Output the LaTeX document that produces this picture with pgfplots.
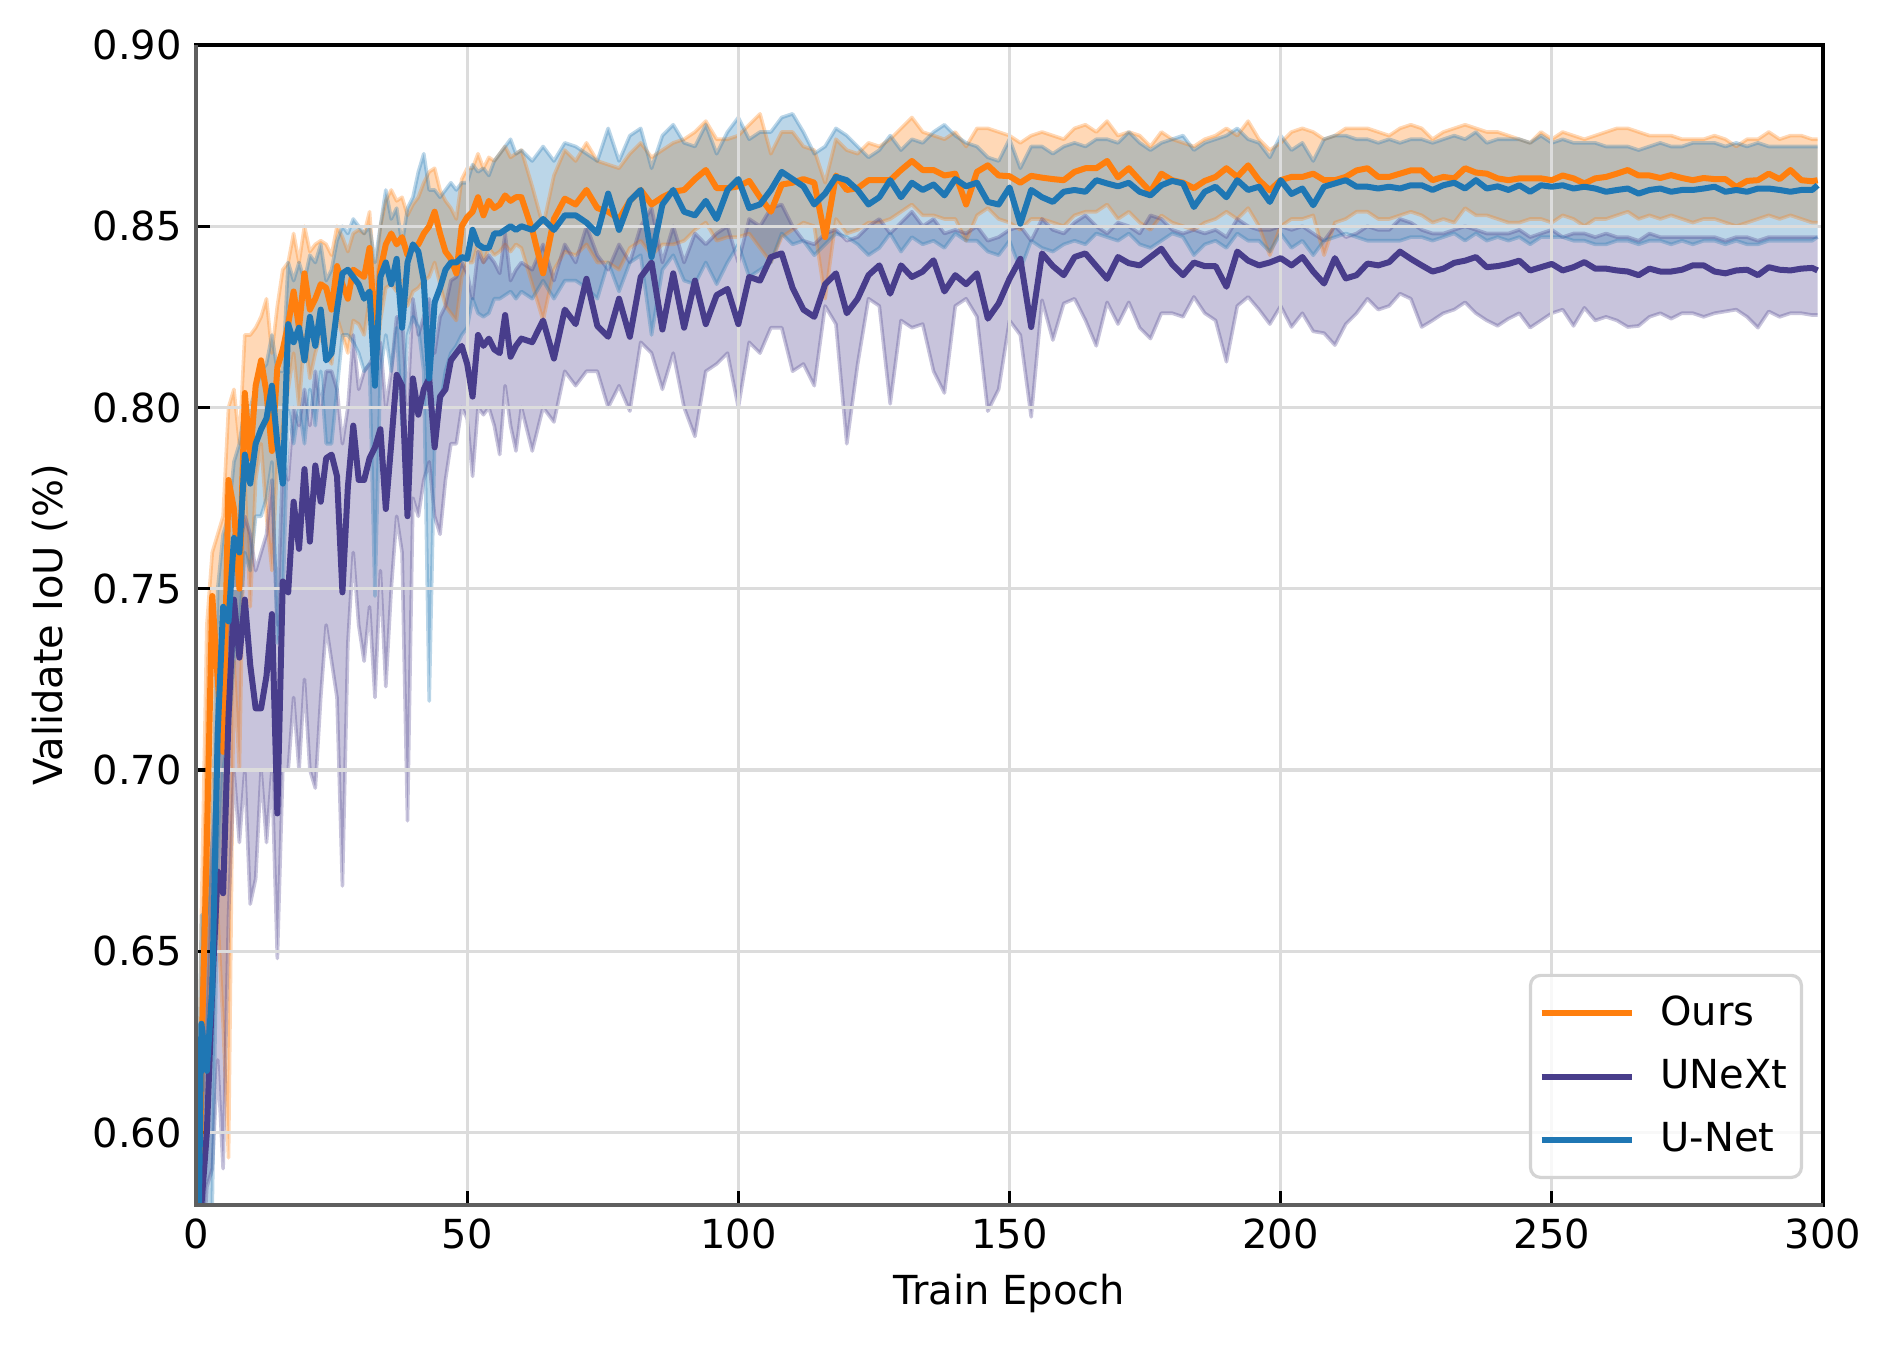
\documentclass[border=0pt]{standalone}
\usepackage{fontspec}
\setmainfont{DejaVu Sans}
\usepackage{pgfplots}
\pgfplotsset{compat=1.18}
\usepgfplotslibrary{fillbetween}
\usepackage{pgfplotstable}
\definecolor{cO}{HTML}{FF7F0E}
\definecolor{cU}{HTML}{483D8B}
\definecolor{cN}{HTML}{1F77B4}
\definecolor{gridc}{RGB}{220,220,220}
\definecolor{spine}{RGB}{95,95,95}
\definecolor{legc}{RGB}{212,212,212}

\pgfplotstableread{
e om ol oh um ul uh nm nl nh
0 0.50 0.45 0.55 0.48 0.42 0.53 0.52 0.46 0.56
1 0.62 0.58 0.66 0.58 0.56 0.60 0.63 0.58 0.66
2 0.68 0.60 0.74 0.60 0.585 0.64 0.617 0.58 0.66
3 0.748 0.70 0.76 0.64 0.59 0.68 0.64 0.58 0.68
4 0.725 0.66 0.765 0.672 0.62 0.70 0.71 0.67 0.75
5 0.705 0.63 0.77 0.666 0.59 0.72 0.745 0.70 0.765
6 0.78 0.593 0.80 0.715 0.66 0.74 0.741 0.71 0.77
7 0.772 0.73 0.805 0.747 0.70 0.765 0.764 0.73 0.785
8 0.75 0.70 0.79 0.731 0.68 0.76 0.76 0.74 0.79
9 0.804 0.78 0.82 0.747 0.70 0.77 0.787 0.76 0.80
10 0.786 0.745 0.82 0.729 0.663 0.765 0.779 0.755 0.80
11 0.806 0.78 0.822 0.717 0.67 0.755 0.79 0.77 0.805
12 0.813 0.79 0.825 0.717 0.70 0.76 0.794 0.77 0.81
13 0.804 0.77 0.83 0.726 0.68 0.765 0.797 0.775 0.812
14 0.788 0.755 0.815 0.743 0.70 0.78 0.806 0.785 0.82
15 0.811 0.785 0.828 0.688 0.648 0.74 0.79 0.735 0.81
16 0.816 0.795 0.838 0.752 0.70 0.785 0.779 0.745 0.81
17 0.823 0.805 0.84 0.749 0.70 0.78 0.823 0.80 0.84
18 0.832 0.815 0.848 0.774 0.72 0.80 0.818 0.79 0.835
19 0.822 0.80 0.84 0.761 0.70 0.795 0.822 0.80 0.84
20 0.837 0.82 0.85 0.783 0.725 0.805 0.813 0.79 0.835
21 0.827 0.808 0.843 0.763 0.70 0.795 0.825 0.805 0.842
22 0.83 0.815 0.845 0.784 0.695 0.81 0.817 0.795 0.84
23 0.834 0.82 0.846 0.774 0.72 0.80 0.827 0.81 0.845
24 0.833 0.815 0.845 0.786 0.74 0.81 0.813 0.79 0.835
25 0.827 0.812 0.842 0.787 0.73 0.81 0.815 0.79 0.838
26 0.839 0.825 0.85 0.781 0.72 0.805 0.827 0.805 0.846
27 0.834 0.82 0.847 0.749 0.668 0.79 0.837 0.82 0.85
28 0.83 0.815 0.843 0.778 0.735 0.80 0.838 0.82 0.848
29 0.838 0.824 0.848 0.795 0.76 0.82 0.836 0.818 0.852
30 0.837 0.823 0.849 0.78 0.74 0.805 0.834 0.815 0.85
31 0.836 0.82 0.848 0.78 0.73 0.81 0.83 0.81 0.848
32 0.844 0.83 0.854 0.786 0.745 0.812 0.832 0.812 0.85
33 0.82 0.806 0.834 0.789 0.72 0.815 0.806 0.748 0.84
34 0.838 0.824 0.85 0.794 0.755 0.818 0.836 0.81 0.85
35 0.845 0.833 0.857 0.772 0.723 0.80 0.84 0.82 0.86
36 0.848 0.834 0.86 0.79 0.75 0.81 0.834 0.81 0.852
37 0.845 0.832 0.857 0.809 0.77 0.825 0.841 0.822 0.855
38 0.847 0.835 0.858 0.806 0.76 0.825 0.822 0.795 0.845
39 0.842 0.828 0.853 0.77 0.686 0.80 0.84 0.82 0.855
40 0.844 0.832 0.856 0.808 0.775 0.83 0.845 0.825 0.858
41 0.845 0.833 0.858 0.798 0.77 0.82 0.843 0.822 0.865
42 0.848 0.835 0.862 0.805 0.78 0.825 0.835 0.81 0.87
43 0.85 0.836 0.865 0.808 0.785 0.83 0.808 0.719 0.86
44 0.854 0.84 0.866 0.789 0.77 0.815 0.829 0.79 0.86
45 0.848 0.834 0.86 0.803 0.765 0.825 0.833 0.80 0.858
46 0.843 0.828 0.857 0.805 0.78 0.828 0.838 0.81 0.86
47 0.841 0.826 0.855 0.813 0.79 0.835 0.84 0.815 0.862
48 0.837 0.824 0.852 0.815 0.79 0.836 0.84 0.817 0.86
49 0.85 0.836 0.863 0.817 0.80 0.84 0.8415 0.82 0.862
50 0.8525 0.84 0.866 0.812 0.797 0.837 0.841 0.822 0.862
51 0.854 0.84 0.866 0.803 0.781 0.83 0.849 0.83 0.867
52 0.858 0.845 0.87 0.82 0.80 0.843 0.845 0.826 0.865
53 0.853 0.84 0.866 0.817 0.798 0.84 0.844 0.825 0.866
54 0.857 0.844 0.869 0.819 0.80 0.842 0.844 0.826 0.864
55 0.855 0.842 0.868 0.816 0.795 0.84 0.848 0.83 0.868
56 0.856 0.843 0.87 0.815 0.787 0.837 0.848 0.83 0.87
57 0.8585 0.845 0.872 0.8255 0.806 0.848 0.849 0.831 0.872
58 0.857 0.843 0.869 0.814 0.795 0.835 0.85 0.832 0.874
59 0.858 0.845 0.87 0.817 0.788 0.838 0.849 0.83 0.87
60 0.858 0.844 0.871 0.819 0.80 0.84 0.85 0.832 0.871
62 0.849 0.834 0.861 0.818 0.788 0.838 0.849 0.83 0.868
64 0.837 0.824 0.85 0.824 0.80 0.845 0.852 0.835 0.872
66 0.852 0.838 0.864 0.8135 0.796 0.835 0.849 0.83 0.868
68 0.8576 0.843 0.871 0.827 0.81 0.845 0.853 0.835 0.873
70 0.856 0.842 0.868 0.823 0.806 0.84 0.853 0.835 0.872
72 0.86 0.845 0.873 0.8355 0.81 0.85 0.851 0.833 0.87
74 0.855 0.84 0.868 0.8225 0.81 0.842 0.848 0.83 0.868
76 0.854 0.84 0.867 0.8195 0.80 0.838 0.859 0.84 0.877
78 0.852 0.838 0.866 0.83 0.806 0.845 0.849 0.832 0.868
80 0.857 0.844 0.87 0.8195 0.799 0.84 0.857 0.84 0.875
82 0.86 0.846 0.873 0.836 0.818 0.85 0.86 0.842 0.877
84 0.856 0.842 0.869 0.84 0.815 0.855 0.8415 0.82 0.866
86 0.858 0.845 0.871 0.8215 0.805 0.84 0.856 0.838 0.875
88 0.8595 0.845 0.873 0.837 0.815 0.85 0.86 0.842 0.878
90 0.86 0.846 0.874 0.822 0.80 0.84 0.854 0.835 0.873
92 0.863 0.849 0.876 0.835 0.792 0.848 0.853 0.834 0.872
94 0.8655 0.851 0.879 0.823 0.81 0.845 0.857 0.84 0.878
96 0.8605 0.846 0.874 0.831 0.812 0.848 0.852 0.834 0.87
98 0.8605 0.847 0.874 0.8327 0.815 0.85 0.86 0.84 0.876
100 0.861 0.847 0.875 0.823 0.80 0.84 0.863 0.845 0.88
102 0.8625 0.848 0.878 0.836 0.818 0.852 0.855 0.836 0.874
104 0.858 0.844 0.881 0.835 0.815 0.85 0.856 0.838 0.876
106 0.854 0.84 0.87 0.8415 0.822 0.855 0.86 0.84 0.876
108 0.8615 0.847 0.876 0.8425 0.822 0.856 0.865 0.848 0.88
110 0.862 0.849 0.876 0.833 0.81 0.85 0.863 0.845 0.881
112 0.863 0.851 0.872 0.827 0.812 0.846 0.861 0.846 0.876
114 0.862 0.850 0.871 0.825 0.806 0.845 0.856 0.842 0.870
116 0.847 0.830 0.862 0.834 0.828 0.848 0.859 0.845 0.872
118 0.864 0.852 0.874 0.837 0.823 0.849 0.8636 0.848 0.877
120 0.860 0.848 0.871 0.826 0.790 0.846 0.8627 0.847 0.875
122 0.8605 0.849 0.870 0.830 0.812 0.847 0.860 0.845 0.872
124 0.8627 0.851 0.873 0.8365 0.830 0.850 0.856 0.842 0.869
126 0.8627 0.851 0.872 0.8392 0.828 0.852 0.858 0.844 0.871
128 0.8627 0.852 0.874 0.8314 0.801 0.848 0.8627 0.848 0.875
130 0.8655 0.854 0.877 0.8392 0.824 0.851 0.858 0.843 0.871
132 0.868 0.856 0.880 0.836 0.822 0.854 0.862 0.847 0.874
134 0.8655 0.853 0.876 0.8375 0.823 0.850 0.860 0.845 0.873
136 0.8655 0.853 0.875 0.8406 0.810 0.852 0.8615 0.846 0.876
138 0.864 0.852 0.874 0.832 0.804 0.848 0.8585 0.844 0.878
140 0.8645 0.852 0.876 0.8365 0.828 0.849 0.863 0.848 0.875
142 0.856 0.846 0.872 0.834 0.830 0.848 0.861 0.846 0.873
144 0.865 0.853 0.877 0.837 0.825 0.850 0.862 0.846 0.872
146 0.8668 0.855 0.877 0.8245 0.799 0.846 0.8567 0.843 0.869
148 0.864 0.852 0.876 0.8287 0.805 0.847 0.856 0.842 0.868
150 0.8638 0.851 0.875 0.8355 0.824 0.849 0.8607 0.846 0.874
152 0.862 0.849 0.873 0.841 0.820 0.850 0.8507 0.838 0.866
154 0.8639 0.852 0.875 0.8222 0.7974 0.846 0.860 0.846 0.872
156 0.8634 0.852 0.876 0.8425 0.8296 0.852 0.858 0.844 0.872
158 0.863 0.851 0.875 0.839 0.8186 0.849 0.8567 0.843 0.870
160 0.8627 0.850 0.874 0.8365 0.8287 0.848 0.8595 0.845 0.872
162 0.865 0.853 0.877 0.8415 0.830 0.851 0.860 0.846 0.873
164 0.866 0.854 0.878 0.8425 0.8241 0.853 0.8595 0.845 0.872
166 0.866 0.854 0.876 0.839 0.817 0.850 0.8627 0.848 0.874
168 0.868 0.856 0.879 0.8355 0.829 0.848 0.8618 0.847 0.874
170 0.8635 0.852 0.875 0.8415 0.823 0.851 0.861 0.846 0.873
172 0.866 0.854 0.876 0.8398 0.829 0.850 0.862 0.848 0.876
174 0.8627 0.851 0.875 0.8392 0.822 0.848 0.8595 0.845 0.873
176 0.8595 0.849 0.872 0.8415 0.819 0.853 0.8585 0.844 0.871
178 0.8645 0.853 0.876 0.8438 0.826 0.852 0.8613 0.846 0.873
180 0.8627 0.851 0.874 0.8395 0.826 0.849 0.8625 0.848 0.874
182 0.862 0.850 0.873 0.8365 0.825 0.848 0.8618 0.847 0.875
184 0.8605 0.849 0.872 0.840 0.8305 0.849 0.8553 0.842 0.871
186 0.8625 0.851 0.874 0.839 0.826 0.848 0.8595 0.845 0.873
188 0.8636 0.852 0.875 0.839 0.824 0.849 0.8609 0.846 0.874
190 0.866 0.854 0.877 0.8333 0.8126 0.847 0.858 0.844 0.875
192 0.8636 0.852 0.875 0.843 0.828 0.852 0.8627 0.848 0.877
194 0.8668 0.855 0.879 0.8405 0.8305 0.850 0.860 0.846 0.874
196 0.8627 0.850 0.874 0.8392 0.827 0.849 0.8609 0.846 0.873
198 0.8599 0.842 0.871 0.840 0.823 0.849 0.8567 0.843 0.869
200 0.8627 0.850 0.873 0.8412 0.828 0.850 0.8627 0.848 0.875
202 0.8636 0.852 0.876 0.8392 0.8222 0.849 0.8589 0.844 0.871
204 0.8636 0.852 0.877 0.8415 0.826 0.850 0.8604 0.846 0.873
206 0.8645 0.853 0.876 0.8375 0.821 0.848 0.8558 0.842 0.868
208 0.8627 0.842 0.874 0.8342 0.8205 0.846 0.8609 0.846 0.874
210 0.8627 0.851 0.875 0.8412 0.8172 0.850 0.8618 0.847 0.875
212 0.8636 0.852 0.877 0.8356 0.823 0.847 0.8627 0.848 0.875
214 0.8654 0.854 0.877 0.8365 0.826 0.848 0.8609 0.847 0.874
216 0.866 0.854 0.877 0.8397 0.830 0.850 0.8609 0.846 0.874
218 0.8636 0.852 0.876 0.8392 0.827 0.849 0.8604 0.846 0.873
220 0.8636 0.852 0.875 0.8401 0.828 0.849 0.8609 0.846 0.874
222 0.8645 0.853 0.877 0.843 0.8314 0.852 0.8604 0.846 0.873
224 0.8654 0.854 0.878 0.841 0.830 0.851 0.8613 0.847 0.874
226 0.8654 0.853 0.877 0.8392 0.8222 0.849 0.8613 0.847 0.874
228 0.8627 0.851 0.874 0.8375 0.824 0.848 0.860 0.846 0.873
230 0.8636 0.852 0.876 0.8383 0.826 0.848 0.8613 0.847 0.874
232 0.8632 0.851 0.877 0.8399 0.827 0.849 0.862 0.848 0.875
234 0.866 0.855 0.878 0.8405 0.829 0.850 0.8604 0.846 0.874
236 0.8648 0.853 0.877 0.8415 0.826 0.849 0.8627 0.848 0.876
238 0.8645 0.853 0.876 0.8387 0.824 0.848 0.8604 0.846 0.873
240 0.8632 0.852 0.876 0.839 0.8225 0.848 0.861 0.847 0.874
242 0.8627 0.851 0.875 0.8396 0.8245 0.848 0.860 0.846 0.874
244 0.8632 0.851 0.874 0.8405 0.826 0.849 0.8613 0.847 0.874
246 0.8632 0.852 0.873 0.8378 0.822 0.847 0.8595 0.845 0.873
248 0.8632 0.852 0.876 0.8387 0.824 0.848 0.8613 0.847 0.875
250 0.8627 0.851 0.874 0.8396 0.826 0.849 0.8609 0.847 0.873
252 0.864 0.853 0.876 0.8378 0.827 0.847 0.8613 0.847 0.874
254 0.8632 0.852 0.875 0.8387 0.8225 0.848 0.8604 0.846 0.873
256 0.8618 0.850 0.874 0.8401 0.8275 0.848 0.8609 0.846 0.873
258 0.8632 0.852 0.875 0.8383 0.824 0.847 0.8604 0.845 0.873
260 0.8636 0.852 0.876 0.8383 0.825 0.848 0.8595 0.845 0.872
262 0.8645 0.853 0.877 0.8378 0.824 0.847 0.860 0.846 0.872
264 0.8655 0.854 0.877 0.8375 0.8222 0.847 0.8604 0.846 0.872
266 0.864 0.852 0.876 0.8365 0.8225 0.846 0.859 0.845 0.871
268 0.864 0.853 0.875 0.8383 0.825 0.848 0.860 0.846 0.872
270 0.8633 0.852 0.875 0.8375 0.826 0.847 0.8604 0.846 0.873
272 0.8641 0.853 0.875 0.8375 0.8245 0.847 0.8595 0.845 0.872
274 0.8633 0.852 0.874 0.838 0.826 0.847 0.860 0.846 0.872
276 0.8627 0.851 0.874 0.8392 0.826 0.847 0.860 0.845 0.873
278 0.8633 0.852 0.874 0.8392 0.825 0.847 0.8604 0.846 0.873
280 0.863 0.852 0.875 0.8375 0.826 0.847 0.8609 0.846 0.873
282 0.863 0.851 0.874 0.837 0.8265 0.846 0.8595 0.845 0.872
284 0.8608 0.850 0.872 0.8378 0.827 0.847 0.860 0.846 0.873
286 0.8625 0.851 0.874 0.838 0.825 0.847 0.8595 0.845 0.872
288 0.8627 0.852 0.874 0.8365 0.822 0.846 0.8604 0.845 0.873
290 0.8645 0.853 0.876 0.8387 0.8265 0.847 0.8604 0.846 0.872
292 0.863 0.852 0.874 0.838 0.825 0.847 0.860 0.846 0.872
294 0.8655 0.853 0.875 0.8378 0.826 0.847 0.8595 0.846 0.872
296 0.8627 0.852 0.875 0.8383 0.826 0.847 0.860 0.846 0.872
298 0.8624 0.851 0.874 0.8385 0.8255 0.847 0.860 0.846 0.872
299 0.8627 0.851 0.874 0.8378 0.8255 0.847 0.8613 0.847 0.872
}\curves

\pgfplotsset{
  common/.style={
    scale only axis,
    width=406.75pt, height=290pt,
    xmin=0, xmax=300, ymin=0.58, ymax=0.90,
  },
}

\begin{document}
\begin{tikzpicture}
% first axis: the shaded bands only
\begin{axis}[common, hide axis]
\addplot[cO, opacity=0.3, line width=0.9pt, line join=round, name path=oL] table[x=e,y=ol]{\curves};
\addplot[cO, opacity=0.3, line width=0.9pt, line join=round, name path=oH] table[x=e,y=oh]{\curves};
\addplot[cO, fill opacity=0.3, draw=none] fill between[of=oH and oL];
\addplot[cU, opacity=0.3, line width=0.9pt, line join=round, name path=uL] table[x=e,y=ul]{\curves};
\addplot[cU, opacity=0.3, line width=0.9pt, line join=round, name path=uH] table[x=e,y=uh]{\curves};
\addplot[cU, fill opacity=0.3, draw=none] fill between[of=uH and uL];
\addplot[cN, opacity=0.3, line width=0.9pt, line join=round, name path=nL] table[x=e,y=nl]{\curves};
\addplot[cN, opacity=0.3, line width=0.9pt, line join=round, name path=nH] table[x=e,y=nh]{\curves};
\addplot[cN, fill opacity=0.3, draw=none] fill between[of=nH and nL];
\end{axis}
% second axis: grid, lines, ticks, legend
\begin{axis}[common,
  xtick={0,50,100,150,200,250,300},
  ytick={0.60,0.65,0.70,0.75,0.80,0.85,0.90},
  /pgf/number format/assume math mode=true,
  y tick label style={/pgf/number format/fixed,/pgf/number format/fixed zerofill,/pgf/number format/precision=2},
  tick label style={font=\fontsize{10}{12}\selectfont},
  tick align=inside,
  tick pos=left,
  major tick length=3.5pt,
  every tick/.style={black, line width=0.8pt},
  grid=major,
  major grid style={gridc, line width=0.8pt},
  axis line style={black, line width=0.8pt},
  every axis x label/.style={at={(axis description cs:0.5,-0.0759)}, anchor=center, font=\fontsize{10}{12}\selectfont},
  every axis y label/.style={at={(axis description cs:-0.090,0.5)}, anchor=center, rotate=90, font=\fontsize{10}{12}\selectfont},
  xlabel={Train Epoch},
  ylabel={Validate IoU (\%)},
  legend image code/.code={\draw[#1] (0pt,0pt) -- (22.5pt,0pt); \path (27.5pt,0pt);},
  legend cell align=left,
  legend style={at={(axis description cs:0.9877,0.0224)}, anchor=south east,
    draw=legc, line width=0.8pt, rounded corners=2.5pt, fill=white, fill opacity=0.8, text opacity=1,
    font=\fontsize{10}{12}\selectfont, inner xsep=2pt, inner ysep=3.5pt,
    nodes={inner sep=1.5pt}, row sep=4pt},
]
\addplot[cO, line width=1.5pt, line join=round] table[x=e,y=om]{\curves};
\addplot[cU, line width=1.5pt, line join=round] table[x=e,y=um]{\curves};
\addplot[cN, line width=1.5pt, line join=round] table[x=e,y=nm]{\curves};
\legend{Ours,UNeXt,U-Net}
\end{axis}
\draw[spine, line width=0.8pt] (current axis.north west) -- (current axis.south west) -- (current axis.south east);
\pgfresetboundingbox
\useasboundingbox (-49pt,-35.25pt) rectangle (424.25pt,301.25pt);
\end{tikzpicture}
\end{document}
